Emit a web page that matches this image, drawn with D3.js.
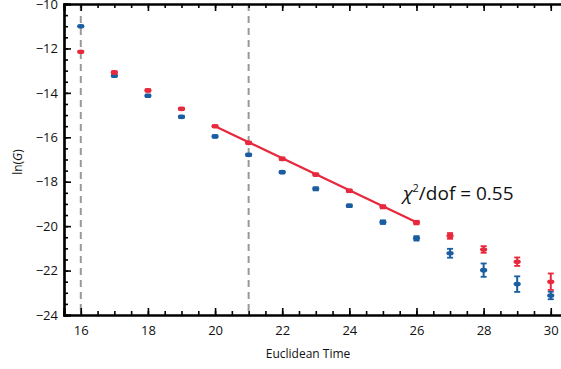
<!DOCTYPE html>
<html>
<head>
<meta charset="utf-8">
<script src="https://cdn.jsdelivr.net/npm/d3@7"></script>
<style>
  body { margin: 0; background: #fff; }
  text { font-family: "Open Sans", sans-serif; }
</style>
</head>
<body>
<svg id="chart" width="561" height="369"></svg>
<script>
// euclidean time slices
const times = [16, 17, 18, 19, 20, 21, 22, 23, 24, 25, 26, 27, 28, 29, 30];

// red series (fitted)
const redVals = [-12.15, -13.08, -13.89, -14.72, -15.50, -16.25, -16.97, -17.68, -18.41, -19.13, -19.84, -20.44, -21.05, -21.60, -22.50];
const redErr  = [0.03, 0.05, 0.05, 0.05, 0.04, 0.05, 0.06, 0.05, 0.06, 0.07, 0.08, 0.13, 0.15, 0.19, 0.37];

// blue series
const blueVals = [-11.00, -13.23, -14.13, -15.08, -15.96, -16.79, -17.57, -18.32, -19.08, -19.82, -20.55, -21.22, -21.98, -22.61, -23.12];
const blueErr  = [0.03, 0.04, 0.05, 0.05, 0.05, 0.05, 0.05, 0.07, 0.06, 0.08, 0.1, 0.2, 0.3, 0.35, 0.17];

// fit line endpoints and window markers
const fitT = [20, 26];
const fitV = [-15.50, -19.83];
const windowT = [16, 21];

const xTicks = [16, 18, 20, 22, 24, 26, 28, 30];
const yTicks = [-10, -12, -14, -16, -18, -20, -22, -24];

const red = "#e8283c";
const blue = "#1a5da1";

const margin = { left: 64, top: 4, right: 0, bottom: 54 };

const x = d3.scaleLinear().domain([15.5, 30.5]).range([margin.left, margin.left + 15 * 33.57]);
const y = d3.scaleLinear().domain([-24, -10]).range([315, 4]);

const svg = d3.select("#chart");

// dashed window lines
svg.selectAll(".win")
  .data(windowT)
  .enter().append("line")
  .attr("x1", d => x(d)).attr("x2", d => x(d))
  .attr("y1", y(-10)).attr("y2", y(-24))
  .attr("stroke", "#999")
  .attr("stroke-width", 2)
  .attr("stroke-dasharray", "7,5");

const minorX = d3.range(16, 30.01, 0.5);
const minorY = d3.range(-24, -9.99, 0.5);

const styleAxis = g => {
  g.select(".domain").attr("stroke-width", 2.2);
  g.selectAll("line").attr("stroke-width", 1.6);
  g.selectAll("text").attr("font-size", 13).attr("fill", "#111");
};

// minor ticks
svg.append("g").attr("transform", `translate(0,${y(-24)})`)
  .call(d3.axisTop(x).tickValues(minorX).tickSize(4).tickFormat(""))
  .call(styleAxis);
svg.append("g").attr("transform", `translate(0,${y(-10)})`)
  .call(d3.axisBottom(x).tickValues(minorX).tickSize(4).tickFormat(""))
  .call(styleAxis);
svg.append("g").attr("transform", `translate(${margin.left},0)`)
  .call(d3.axisRight(y).tickValues(minorY).tickSize(4).tickFormat(""))
  .call(styleAxis);

// major ticks
svg.append("g").attr("transform", `translate(0,${y(-24)})`)
  .call(d3.axisTop(x).tickValues(xTicks).tickSize(7).tickFormat(""))
  .call(styleAxis);
svg.append("g").attr("transform", `translate(0,${y(-10)})`)
  .call(d3.axisBottom(x).tickValues(xTicks).tickSize(7).tickFormat(""))
  .call(styleAxis);
svg.append("g").attr("transform", `translate(${margin.left},0)`)
  .call(d3.axisRight(y).tickValues(yTicks).tickSize(7).tickFormat(""))
  .call(styleAxis);

// tick labels
svg.append("g").attr("transform", `translate(0,${y(-24)})`)
  .call(d3.axisBottom(x).tickValues(xTicks).tickSize(0).tickPadding(11).tickFormat(d3.format("d")))
  .call(g => g.select(".domain").remove())
  .call(styleAxis);
svg.append("g").attr("transform", `translate(${margin.left},0)`)
  .call(d3.axisLeft(y).tickValues(yTicks).tickSize(0).tickPadding(6).tickFormat(d3.format("d")))
  .call(g => g.select(".domain").remove())
  .call(styleAxis);

// axis titles
svg.append("text")
  .attr("x", 308).attr("y", 358)
  .attr("text-anchor", "middle")
  .attr("font-size", 12)
  .attr("fill", "#111")
  .text("Euclidean Time");

const yl = svg.append("text")
  .attr("transform", "translate(22,162) rotate(-90)")
  .attr("text-anchor", "middle")
  .attr("font-size", 12)
  .attr("fill", "#111");
yl.append("tspan").text("ln(");
yl.append("tspan").attr("font-style", "italic").text("G");
yl.append("tspan").text(")");

// fit line
svg.append("line")
  .attr("x1", x(fitT[0])).attr("y1", y(fitV[0]))
  .attr("x2", x(fitT[1])).attr("y2", y(fitV[1]))
  .attr("stroke", red)
  .attr("stroke-width", 2.2);

// points with error bars
const drawSeries = (vals, errs, color) => {
  const data = times.map((t, i) => ({ t: t, v: vals[i], e: errs[i] }));
  const pt = svg.append("g").selectAll("g").data(data).enter().append("g");
  pt.append("line")
    .attr("x1", d => x(d.t)).attr("x2", d => x(d.t))
    .attr("y1", d => y(d.v - d.e)).attr("y2", d => y(d.v + d.e))
    .attr("stroke", color).attr("stroke-width", 2);
  [-1, 1].forEach(s => {
    pt.append("line")
      .attr("x1", d => x(d.t) - 3).attr("x2", d => x(d.t) + 3)
      .attr("y1", d => y(d.v + s * d.e)).attr("y2", d => y(d.v + s * d.e))
      .attr("stroke", color).attr("stroke-width", 1.8);
  });
  pt.append("ellipse")
    .attr("cx", d => x(d.t)).attr("cy", d => y(d.v))
    .attr("rx", 3.6).attr("ry", 2.3)
    .attr("fill", color);
};

drawSeries(blueVals, blueErr, blue);
drawSeries(redVals, redErr, red);

// fit quality annotation
const chi = svg.append("text")
  .attr("x", 403).attr("y", 200)
  .attr("font-size", 19)
  .attr("fill", "#111");
chi.append("tspan").attr("font-style", "italic").text("χ");
chi.append("tspan").attr("font-size", 11).attr("dy", -8).text("2");
chi.append("tspan").attr("dy", 8).text("/dof = 0.55");
</script>
</body>
</html>
